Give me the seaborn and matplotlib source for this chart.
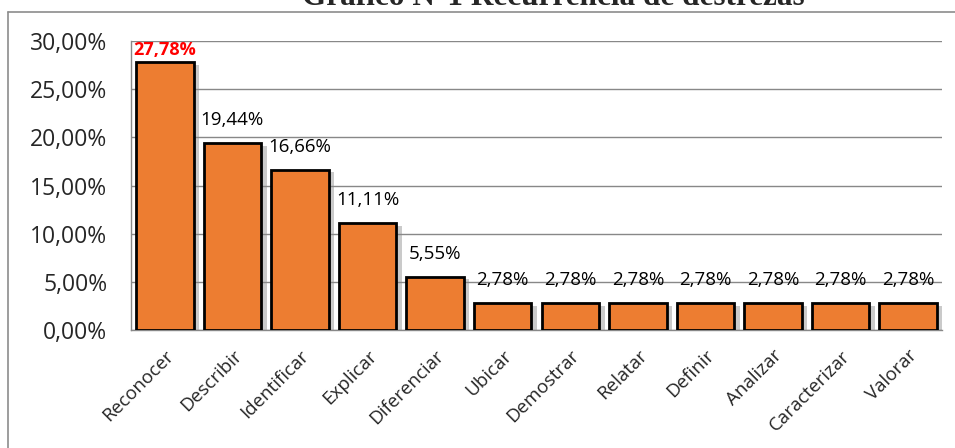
import numpy as np
import pandas as pd
import matplotlib
matplotlib.use('Agg')
import matplotlib.pyplot as plt
import matplotlib.patheffects as pe
from matplotlib.lines import Line2D
import seaborn as sns

destrezas = ['Reconocer', 'Describir', 'Identificar', 'Explicar', 'Diferenciar', 'Ubicar',
             'Demostrar', 'Relatar', 'Definir', 'Analizar', 'Caracterizar', 'Valorar']
porcentajes = [27.78, 19.44, 16.66, 11.11, 5.55, 2.78, 2.78, 2.78, 2.78, 2.78, 2.78, 2.78]
etiquetas = ['27,78%', '19,44%', '16,66%', '11,11%', '5,55%', '2,78%', '2,78%', '2,78%',
             '2,78%', '2,78%', '2,78%', '2,78%']
y_ticks = [0, 5, 10, 15, 20, 25, 30]
y_tick_labels = ['0,00%', '5,00%', '10,00%', '15,00%', '20,00%', '25,00%', '30,00%']

df = pd.DataFrame({'destreza': destrezas, 'pct': porcentajes})

sns.set_style('white')
plt.rcParams['font.family'] = ['Open Sans', 'DejaVu Sans']

fig = plt.figure(figsize=(9.55, 4.48), dpi=100)
ax = fig.add_axes([131 / 955, 1 - 330 / 448, (942 - 131) / 955, (330 - 41) / 448])

sns.barplot(data=df, x='destreza', y='pct', color='#ED7D31', edgecolor='black',
            linewidth=2, width=0.85, saturation=1, ax=ax, zorder=3)

# sombra suave a la derecha de cada barra
for bar in ax.patches:
    bar.set_path_effects([pe.SimplePatchShadow(offset=(4, -2), shadow_rgbFace='#8a8a8a', alpha=0.45),
                          pe.Normal()])

# etiquetas de valores
for i, (v, t) in enumerate(zip(porcentajes, etiquetas)):
    if i == 0:
        ax.annotate(t, (i, v), xytext=(0, 9), textcoords='offset points', ha='center', va='center',
                    color='red', fontweight='bold', fontsize=13)
    else:
        ax.annotate(t, (i, v), xytext=(0, 16.5), textcoords='offset points', ha='center', va='center',
                    color='black', fontsize=13.5)

ax.set_ylim(0, 30)
ax.set_xlim(-0.5, 11.5)
ax.set_yticks(y_ticks)
ax.set_yticklabels(y_tick_labels, fontsize=16.5)
ax.set_xticks(range(len(destrezas)))
ax.set_xticklabels(destrezas, rotation=45, ha='right', rotation_mode='anchor', fontsize=13.5)
ax.set_xticks(np.arange(-0.5, 12, 1), minor=True)
ax.tick_params(axis='x', which='major', length=0, pad=12)
ax.tick_params(axis='x', which='minor', length=5, color='#888888', width=1)
ax.tick_params(axis='y', length=7, color='#888888', width=1, pad=10)
ax.set_xlabel('')
ax.set_ylabel('')
ax.yaxis.grid(True, color='#888888', linewidth=1, zorder=0)
ax.set_axisbelow(True)
for s in ['top', 'right']:
    ax.spines[s].set_visible(False)
for s in ['left', 'bottom']:
    ax.spines[s].set_color('#888888')
    ax.spines[s].set_linewidth(1)

# titulo (cortado en la parte superior, como en el original)
fig.text(553 / 955, 1 - 5 / 448, 'Gráfico N°1 Recurrencia de destrezas', ha='center', va='baseline',
         fontsize=22.5, fontweight='bold', family='Liberation Serif')

# borde del area del grafico
fig.add_artist(Line2D([8 / 955, 1.01], [1 - 12 / 448, 1 - 12 / 448], color='#8c8c8c', lw=1.2))
fig.add_artist(Line2D([8 / 955, 8 / 955], [1 - 12 / 448, -0.01], color='#8c8c8c', lw=1.2))

fig.savefig('out.png', dpi=100)
